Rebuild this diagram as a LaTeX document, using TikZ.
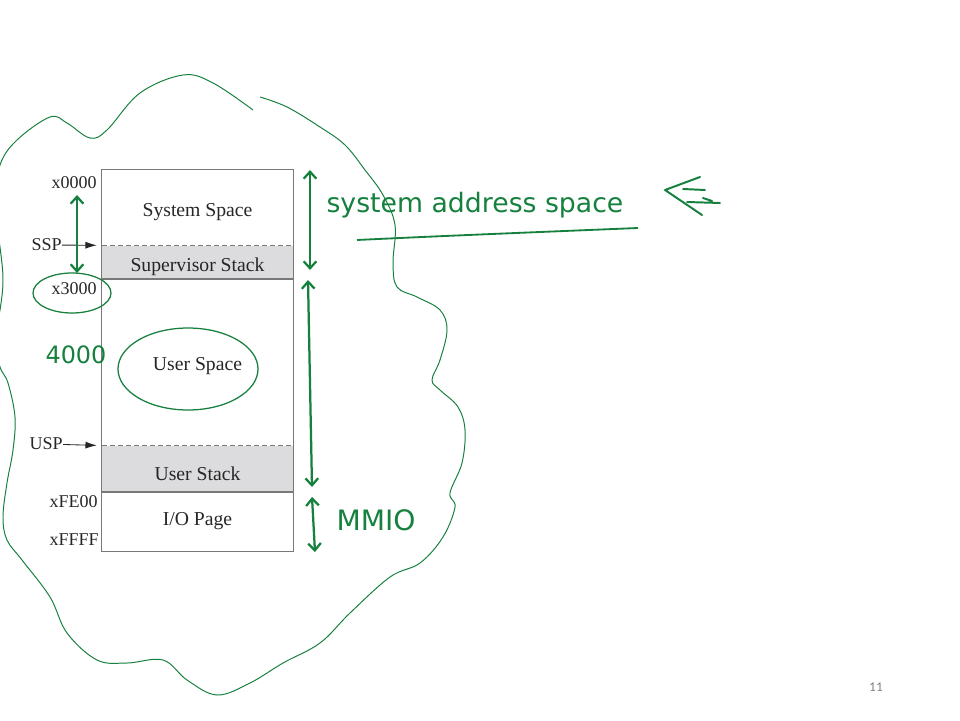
\documentclass[tikz,border=0pt]{standalone}
\usepackage{fontspec}
\setmainfont{Liberation Serif}
\newfontfamily\handfont{DejaVu Sans}
\newfontfamily\slidefont{Carlito}
\usetikzlibrary{positioning,arrows.meta}
\definecolor{ink}{RGB}{22,128,62}
\definecolor{stackgray}{RGB}{220,220,222}
\definecolor{edgegray}{RGB}{120,120,120}
\tikzset{
  region/.style={minimum width=4.775cm,inner sep=0pt,text height=16pt,text depth=3pt,text=black!85,font=\fontsize{14}{16}\selectfont},
  stackfill/.style={fill=stackgray},
  addr/.style={inner sep=0pt,text=black!85,font=\fontsize{12.8}{15}\selectfont},
  boxedge/.style={draw=edgegray,line width=1pt},
  ptr/.style={-{Latex[length=8pt,width=5pt]},line width=0.6pt,black!85},
  spanarrow/.style={ink,line width=1.6pt,{Straight Barb[length=5pt,width=9pt]}-{Straight Barb[length=5pt,width=9pt]}},
  hand/.style={ink,inner sep=0pt,font=\handfont\fontsize{19}{22}\selectfont},
  ring/.style={ink,line width=0.9pt},
  cloudline/.style={ink,line width=0.7pt},
}
\begin{document}
\begin{tikzpicture}
\useasboundingbox (0,0) rectangle (24,18);
\clip (0,0) rectangle (24,18);

\node[region,minimum height=1.875cm] (sys) at (4.9375,12.8125) {System Space};
\node[region,stackfill,minimum height=0.825cm,below=0pt of sys] (sup) {Supervisor Stack};
\node[region,minimum height=4.15cm,below=0pt of sup,text height=15pt] (usr) {User Space};
\node[region,stackfill,minimum height=1.15cm,below=0pt of usr,text height=19.4pt] (ustk) {User Stack};
\node[region,minimum height=1.475cm,below=0pt of ustk,text height=8.6pt] (io) {I/O Page};

\draw[boxedge] (sys.north west) rectangle (io.south east);
\draw[boxedge,dash pattern=on 3.5pt off 2.2pt] (sup.north west) -- (sup.north east);
\draw[boxedge] (sup.south west) -- (sup.south east);
\draw[boxedge,dash pattern=on 3.5pt off 2.2pt] (ustk.north west) -- (ustk.north east);
\draw[boxedge] (ustk.south west) -- (ustk.south east);

\node[addr,anchor=east] (a0000) at (2.425,13.425) {x0000};
\node[addr,anchor=east] (a3000) at (2.425,10.775) {x3000};
\node[addr,anchor=east] (afe00) at (2.45,5.45) {xFE00};
\node[addr,anchor=east] (affff) at (2.475,4.5) {xFFFF};
\node[addr,anchor=east] (ssp) at (1.55,11.875) {SSP};
\node[addr,anchor=east] (usp) at (1.575,6.9) {USP};
\draw[ptr] (ssp) -- ([xshift=-0.125cm]sup.north west);
\draw[ptr] (usp) -- ([xshift=-0.125cm]ustk.north west);

\coordinate (k0) at (1.925,13.125);
\coordinate (k1) at (1.925,11.175);
\coordinate (s0) at (7.75,13.75);
\coordinate (s1) at (7.75,11.25);
\coordinate (u0) at (7.7,11.0);
\coordinate (u1) at (7.8,5.825);
\coordinate (m0) at (7.8,5.575);
\coordinate (m1) at (7.875,4.2);
\draw[spanarrow] (k0) -- (k1);
\draw[spanarrow] (s0) -- (s1);
\draw[spanarrow] (u0) -- (u1);
\draw[spanarrow] (m0) -- (m1);

\draw[ring] (1.8,10.675) ellipse (0.975 and 0.5);
\draw[ring] (4.7,8.775) ellipse (1.75 and 1.025);

\node[hand] (sas) at (11.875,12.875) {system address space};
\draw[ink,line width=1.3pt] (8.925,12.0) .. controls (11,12.1) and (13.5,12.2) .. (15.95,12.3);
\node[hand,font=\handfont\fontsize{20}{24}\selectfont] (mmio) at (9.4,5.0) {MMIO};
\node[hand,font=\handfont\fontsize{17}{20}\selectfont] (n4000) at (1.9,9.125) {4000};

\draw[ink,line width=1.4pt,line cap=round,line join=round] (17.5,13.575) -- (16.625,13.25) -- (17.55,12.625);
\draw[ink,line width=1.4pt,line cap=round] (17.075,13.275) -- (17.625,13.25) (17.175,12.95) -- (18.0,12.925) (17.575,13.05) -- (17.8,12.975);

\draw[cloudline] plot[smooth,tension=0.6] coordinates {
  (6.5,15.575) (7.175,15.325) (8.0,14.825) (8.625,14.375) (9.125,13.75) (9.575,13.125)
  (9.875,12.375) (9.825,11.425) (9.925,10.825) (10.425,10.575) (11.0,10.25) (11.175,9.75)
  (11.0,9.0) (10.8,8.5) (11.0,8.25) (11.45,7.825) (11.625,7.25) (11.55,6.425) (11.25,5.675)
  (11.375,5.325) (11.075,4.575) (10.5,3.925) (9.75,3.575) (8.75,2.675) (8.0,1.925)
  (7.075,1.425) (6.25,0.925) (5.425,0.625) (4.675,1.0) (4.075,1.5) (3.175,1.425)
  (2.425,1.5) (1.675,2.175) (1.25,3.075) (0.55,4.0) (0.175,4.5) (0.075,5.075)
  (0.175,5.925) (0.325,6.75) (0.375,7.575) (0.2,8.425) (0,8.825) (-0.15,9.5) (0,10.25)
  (0.075,11.0) (0,11.825) (-0.15,12.875) (0,13.875) (0.425,14.5) (1.25,15.075)
  (1.675,14.925) (2.25,14.55) (2.675,14.75) (3.5,15.675) (4.575,16.125) (5.325,15.925)
  (6.325,15.25)};

\node[font=\slidefont\fontsize{9.5}{11}\selectfont,text=gray] (pg) at (21.9,0.825) {11};
\end{tikzpicture}
\end{document}
